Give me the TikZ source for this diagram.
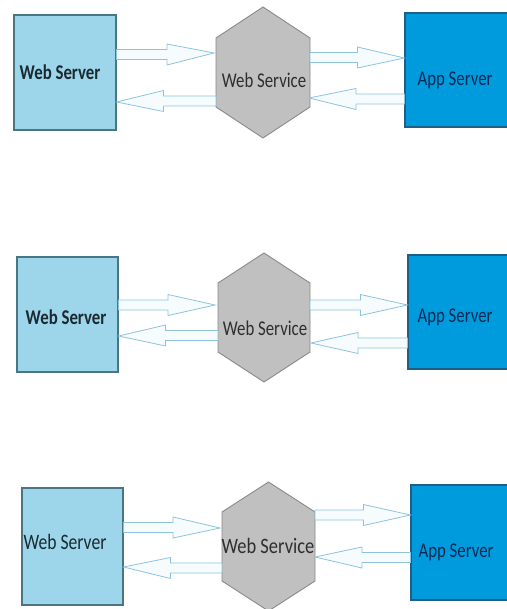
\documentclass[tikz,border=0pt]{standalone}
\usepackage{fontspec}
\setmainfont{Carlito}
\usetikzlibrary{calc}
\definecolor{wsfill}{HTML}{9DD5EA}
\definecolor{wsline}{HTML}{4A7584}
\definecolor{appfill}{HTML}{009BDD}
\definecolor{appline}{HTML}{1F5F86}
\definecolor{hexfill}{HTML}{C0C0C0}
\definecolor{hexline}{HTML}{8A8A8A}
\definecolor{arrline}{HTML}{8EC3DE}
\definecolor{arrfill}{HTML}{F6FCFE}
\definecolor{wstext}{HTML}{1A2A30}
\definecolor{apptext}{HTML}{0A2A55}
\definecolor{hextext}{HTML}{2E2E2E}
\newcommand\sq[1]{\scalebox{0.8}[1]{#1}}
\newcommand\blockarrow[2]{%
  \draw[barrow] let \p1=(#1), \p2=(#2), \n1={ifthenelse(\x2>\x1,1,-1)} in
    (\x1,{\y1+5pt}) -- ({\x2-\n1*47pt},{\y1+5pt}) -- ({\x2-\n1*47pt},{\y1+10.5pt})
    -- (\x2,\y2) -- ({\x2-\n1*47pt},{\y1-10.5pt}) -- ({\x2-\n1*47pt},{\y1-5pt})
    -- (\x1,{\y1-5pt}) -- cycle;}
\newcommand\hexshape[5]{% left x, right x, top, upper vertex, lower vertex
  \draw[hexbox] ({(#1+#2)/2},#3) -- (#2,#4) -- (#2,#5) -- ({(#1+#2)/2},{#5+#4-#3}) -- (#1,#5) -- (#1,#4) -- cycle;}
\tikzset{
  wsbox/.style={draw=wsline, fill=wsfill, line width=1.1pt, inner sep=0pt},
  appbox/.style={draw=appline, fill=appfill, line width=1.1pt, inner sep=0pt},
  hexbox/.style={draw=hexline, fill=hexfill, line width=0.9pt, line join=miter},
  barrow/.style={draw=arrline, fill=arrfill, line width=0.8pt, line join=miter},
  wslabel/.style={font=\fontsize{21}{24}\selectfont\bfseries, text=wstext, inner sep=0pt},
  applabel/.style={font=\fontsize{21}{24}\selectfont, text=apptext, inner sep=0pt},
  hexlabel/.style={font=\fontsize{21}{24}\selectfont, text=hextext, inner sep=0pt},
}
\begin{document}
\begin{tikzpicture}[x=1pt, y=-1pt]
\useasboundingbox (0,0) rectangle (506,609);
\fill[white] (0,0) rectangle (506,609);
% ---------------- Row 1 ----------------
\node[wsbox, minimum width=102pt, minimum height=115pt] (ws1) at (65,72.5) {};
\node[appbox, minimum width=104pt, minimum height=114pt] (app1) at (457,70) {};
\hexshape{216}{310}{7}{38}{107}
\node[wslabel] (ws1t) at (60,72) {\sq{Web Server}};
\node[hexlabel] (hs1t) at (264,80) {\sq{Web Service}};
\node[applabel] (app1t) at (455,80) {\sq{App Server}};
\coordinate (a1s) at (ws1.east |- 0,54.5);
\coordinate (a1e) at (214,53);
\coordinate (a2s) at (216,101);
\coordinate (a2e) at (ws1.east |- 0,102);
\coordinate (a3s) at (310,57.5);
\coordinate (a3e) at (app1.west |- 0,58);
\coordinate (a4s) at (app1.west |- 0,99);
\coordinate (a4e) at (309,98);
\blockarrow{a1s}{a1e}
\blockarrow{a2s}{a2e}
\blockarrow{a3s}{a3e}
\blockarrow{a4s}{a4e}
% ---------------- Row 2 ----------------
\node[wsbox, minimum width=101pt, minimum height=115pt] (ws2) at (67.5,314.5) {};
\node[appbox, minimum width=100pt, minimum height=114pt] (app2) at (458,312) {};
\hexshape{218}{310}{253}{283}{352}
\node[wslabel] (ws2t) at (66,317) {\sq{Web Server}};
\node[hexlabel] (hs2t) at (265,328) {\sq{Web Service}};
\node[applabel] (app2t) at (455,317) {\sq{App Server}};
\coordinate (b1s) at (ws2.east |- 0,305);
\coordinate (b1e) at (215,305);
\coordinate (b2s) at (218,335.5);
\coordinate (b2e) at (ws2.east |- 0,336);
\coordinate (b3s) at (310,305);
\coordinate (b3e) at (app2.west |- 0,305);
\coordinate (b4s) at (app2.west |- 0,343);
\coordinate (b4e) at (311,343);
\blockarrow{b1s}{b1e}
\blockarrow{b2s}{b2e}
\blockarrow{b3s}{b3e}
\blockarrow{b4s}{b4e}
% ---------------- Row 3 ----------------
\node[wsbox, minimum width=101pt, minimum height=117pt] (ws3) at (72.5,546.5) {};
\node[appbox, minimum width=97pt, minimum height=115pt] (app3) at (459.5,542.5) {};
\hexshape{222}{315}{482}{512}{581}
\node[wslabel, font=\fontsize{22}{25}\selectfont] (ws3t) at (65,542) {\sq{Web Server}};
\node[hexlabel, font=\fontsize{22}{25}\selectfont] (hs3t) at (268,546) {\scalebox{0.84}[1]{Web Service}};
\node[applabel] (app3t) at (456,552) {\sq{App Server}};
\coordinate (c1s) at (ws3.east |- 0,527.5);
\coordinate (c1e) at (220,528);
\coordinate (c2s) at (222,568);
\coordinate (c2e) at (ws3.east |- 0,567);
\coordinate (c3s) at (315,515);
\coordinate (c3e) at (app3.west |- 0,515);
\coordinate (c4s) at (app3.west |- 0,557.5);
\coordinate (c4e) at (315,557);
\blockarrow{c1s}{c1e}
\blockarrow{c2s}{c2e}
\blockarrow{c3s}{c3e}
\blockarrow{c4s}{c4e}
\end{tikzpicture}
\end{document}
